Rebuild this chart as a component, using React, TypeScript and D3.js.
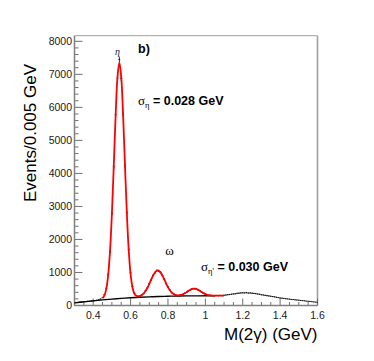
import * as d3 from 'd3'

// histogram: events per bin, bins centred every 0.01 GeV from 0.30
const BIN_START = 0.3
const BIN_STEP = 0.01
const counts = [
  78, 92, 96, 104, 108, 118, 121, 128, 126, 138,
  142, 150, 158, 172, 196, 240, 330, 520, 930, 1620,
  2790, 4200, 5780, 6890, 7450, 6880, 5800, 4230, 2820, 1700,
  990, 580, 380, 305, 282, 290, 322, 360, 445, 530,
  660, 772, 910, 990, 1060, 1045, 1010, 905, 800, 662,
  560, 470, 390, 352, 318, 300, 308, 326, 336, 372,
  400, 448, 476, 510, 508, 512, 478, 452, 404, 378,
  342, 328, 308, 306, 300, 296, 302, 298, 304, 300,
  310, 318, 326, 332, 340, 350, 356, 368, 372, 380,
  386, 382, 388, 378, 380, 372, 366, 360, 348, 340,
  326, 318, 306, 298, 290, 280, 270, 262, 250, 240,
  228, 222, 214, 206, 200, 192, 184, 180, 172, 166,
  160, 154, 148, 142, 134, 128, 124, 116, 108, 102,
  96,
]

// total fit (red), sampled every 0.01 GeV from 0.45 to 1.10
const FIT_START = 0.45
const FIT_STEP = 0.01
const fitTotal = [
  221, 306, 504, 912, 1646, 2772, 4225, 5746, 6917, 7362,
  6922, 5759, 4245, 2799, 1681, 955, 554, 364, 296, 277,
  288, 317, 368, 440, 537, 654, 781, 902, 999, 1053,
  1055, 1005, 911, 794, 670, 557, 464, 395, 348, 320,
  304, 311, 322, 340, 369, 405, 445, 479, 505, 514,
  506, 481, 448, 409, 375, 346, 325, 312, 304, 299,
  297, 297, 297, 297, 297, 297,
]

// background (black), every 0.05 GeV from 0.30 to 1.05
const BKG_START = 0.3
const BKG_STEP = 0.05
const background = [80, 110, 140, 170, 195, 215, 235, 250, 262, 272, 280, 286, 290, 293, 295, 296]

const xTicks = [0.4, 0.6, 0.8, 1.0, 1.2, 1.4, 1.6]
const yTicks = [0, 1000, 2000, 3000, 4000, 5000, 6000, 7000, 8000]

const W = 374
const H = 361
const PLOT = { left: 74.5, right: 317.5, top: 35.7, bottom: 305.5 }
const FONT = '"Liberation Sans", Arial, Helvetica, sans-serif'
const SERIF = '"Liberation Serif", "DejaVu Serif", serif'

export default function App() {
  const x = d3.scaleLinear().domain([0.3, 1.6]).range([PLOT.left, PLOT.right])
  const y = d3.scaleLinear().domain([0, 8170]).range([PLOT.bottom, PLOT.top])

  const fitPts: [number, number][] = fitTotal.map((v, i) => [FIT_START + i * FIT_STEP, v])
  const bkgPts: [number, number][] = background.map((v, i) => [BKG_START + i * BKG_STEP, v])

  const line = d3.line<[number, number]>()
    .x(d => x(d[0]))
    .y(d => y(d[1]))
    .curve(d3.curveCatmullRom)

  const xMinor = d3.range(0.3, 1.6001, 0.05)
  const yMinor = d3.range(0, 8001, 200)
  const fmtX = d3.format('~g')

  return (
    <svg width={W} height={H} style={{ position: 'absolute', left: 0, top: 0, background: '#fff' }}>
      <defs>
        <clipPath id="plotClip">
          <rect x={PLOT.left} y={PLOT.top} width={PLOT.right - PLOT.left} height={PLOT.bottom - PLOT.top} />
        </clipPath>
      </defs>

      {/* frame */}
      <line x1={PLOT.left} x2={PLOT.right} y1={PLOT.top} y2={PLOT.top} stroke="#a0a0a0" strokeWidth={1} />
      <line x1={PLOT.right} x2={PLOT.right} y1={PLOT.top} y2={PLOT.bottom} stroke="#a0a0a0" strokeWidth={1.6} />

      {/* y ticks */}
      {yMinor.map(v => {
        const major = v % 1000 === 0
        return (
          <line key={'ym' + v} x1={PLOT.left} x2={PLOT.left + (major ? 8 : 4)} y1={y(v)} y2={y(v)}
            stroke="#707070" strokeWidth={1} />
        )
      })}
      {yTicks.map(v => (
        <text key={'yl' + v} x={72} y={y(v)} dy="0.36em" textAnchor="end" fontFamily={FONT}
          fontSize={10.5} fill="#1a1a1a">{v}</text>
      ))}

      {/* x ticks */}
      {xMinor.map(v => {
        const major = Math.abs(Math.round(v * 5) - v * 5) < 1e-6 && v > 0.31
        return (
          <line key={'xm' + v.toFixed(2)} x1={x(v)} x2={x(v)} y1={PLOT.bottom} y2={PLOT.bottom - (major ? 7 : 3.5)}
            stroke="#707070" strokeWidth={1} />
        )
      })}
      {xTicks.map(v => (
        <text key={'xl' + v} x={x(v)} y={318.5} textAnchor="middle" fontFamily={FONT}
          fontSize={10.5} fill="#1a1a1a">{fmtX(v)}</text>
      ))}

      {/* axes */}
      <line x1={PLOT.left} x2={PLOT.left} y1={PLOT.top} y2={PLOT.bottom} stroke="#808080" strokeWidth={1.5} />
      <line x1={PLOT.left} x2={PLOT.right} y1={PLOT.bottom} y2={PLOT.bottom} stroke="#808080" strokeWidth={1.5} />

      <g clipPath="url(#plotClip)">
        {/* data points with error bars */}
        {counts.map((c, i) => {
          const m = BIN_START + i * BIN_STEP
          const err = Math.sqrt(c)
          return (
            <g key={'d' + i} stroke="#000" strokeWidth={0.8}>
              <line x1={x(m - BIN_STEP / 2)} x2={x(m + BIN_STEP / 2)} y1={y(c)} y2={y(c)} />
              <line x1={x(m)} x2={x(m)} y1={y(c - err)} y2={y(c + err)} />
            </g>
          )
        })}
        <path d={line(bkgPts) ?? ''} fill="none" stroke="#000" strokeWidth={1.3} />
        <path d={line(fitPts) ?? ''} fill="none" stroke="#ff0000" strokeWidth={1.8} />
      </g>

      {/* annotations */}
      <text x={117.5} y={55} textAnchor="middle" fontFamily={SERIF} fontStyle="italic" fontSize={10} fill="#222">η</text>
      <text x={138} y={52.5} fontFamily={FONT} fontWeight="bold" fontSize={12.5} fill="#000">b)</text>
      <text x={138} y={105} fontFamily={FONT} fontSize={12.5} fill="#000">
        <tspan fontFamily={SERIF} fontSize={13}>σ</tspan>
        <tspan fontFamily={SERIF} fontSize={8.5} dy={3}>η</tspan>
        <tspan fontWeight="bold" dy={-3}> = 0.028 GeV</tspan>
      </text>
      <text x={169.5} y={255} textAnchor="middle" fontFamily={SERIF} fontSize={13} fill="#000">ω</text>
      <text x={201} y={270.5} fontFamily={FONT} fontSize={12.5} fill="#000">
        <tspan fontFamily={SERIF} fontSize={13}>σ</tspan>
        <tspan fontFamily={SERIF} fontSize={8.5} dy={3}>η'</tspan>
        <tspan fontWeight="bold" dy={-3}> = 0.030 GeV</tspan>
      </text>

      {/* axis titles */}
      <text transform="translate(36,133) rotate(-90)" textAnchor="middle" fontFamily={FONT} fontSize={17} fill="#000">
        Events/0.005 GeV
      </text>
      <text x={317.5} y={340} textAnchor="end" fontFamily={FONT} fontSize={17} fill="#000">M(2γ) (GeV)</text>
    </svg>
  )
}
